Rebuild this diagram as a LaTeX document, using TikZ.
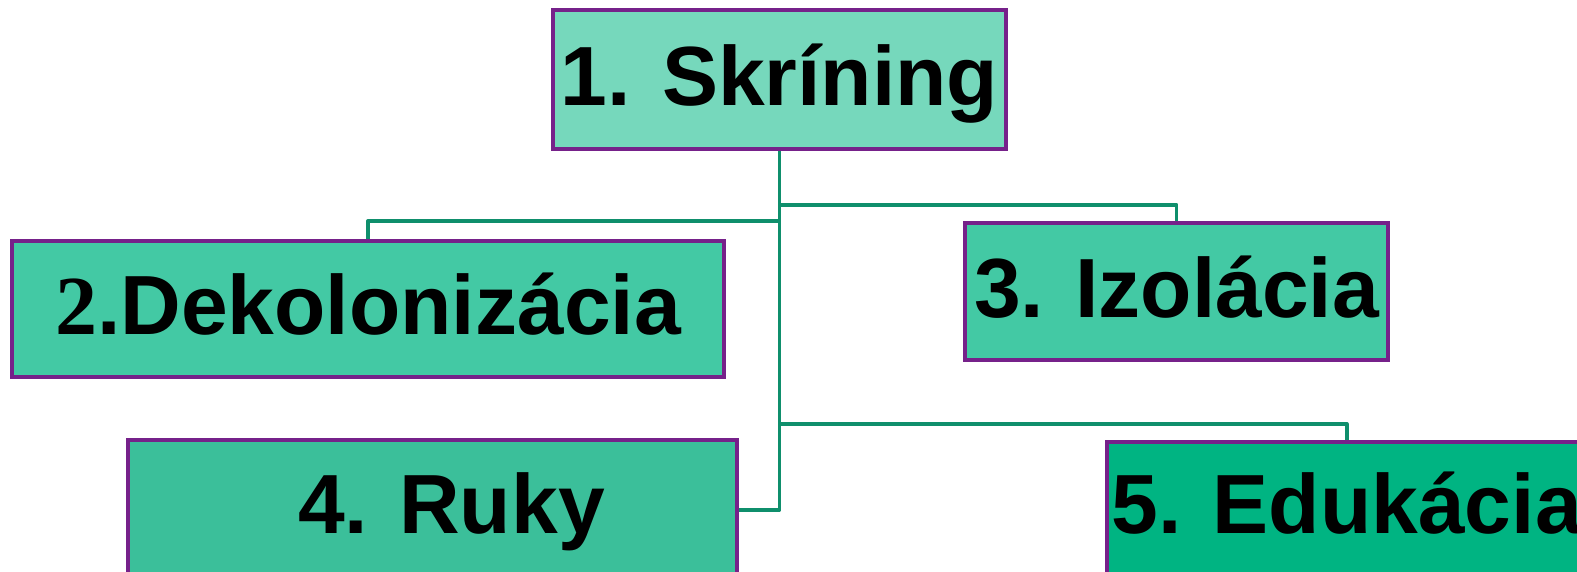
\documentclass[tikz,border=0pt]{standalone}
\usepackage{fontspec}
\setmainfont{Liberation Sans}
\newfontfamily\serifdigit{Liberation Serif}
\usepackage{tikz}

\definecolor{borderpurple}{HTML}{76218A}
\definecolor{linkgreen}{HTML}{0F8F6C}
\definecolor{fillone}{HTML}{76D8BC}
\definecolor{filltwo}{HTML}{43C9A4}
\definecolor{fillfour}{HTML}{3BBF9A}
\definecolor{fillfive}{HTML}{00B482}

\tikzset{
  stepbox/.style={draw=borderpurple, line width=3.5pt, inner xsep=5pt,
    font=\fontsize{84pt}{90pt}\selectfont\bfseries,
    text height=61pt, text depth=10pt},
  lowbox/.style={stepbox, text depth=15pt},
  link/.style={draw=linkgreen, line width=3.5pt, line join=round}
}

\begin{document}
\begin{tikzpicture}[x=1pt, y=-1pt]
      \clip (0,0) rectangle (1577,571);
      \fill[white] (0,0) rectangle (1577,571);
      \node[stepbox, fill=fillone, minimum width=453pt, minimum height=139pt] (skrin) at (779.5, 79.5) {1. Skríning};
      \node[stepbox, fill=filltwo, minimum width=712pt, minimum height=136pt] (dekol) at (368, 309) {{\serifdigit 2}.Dekolonizácia};
      \node[stepbox, fill=filltwo, minimum width=423pt, minimum height=137pt] (izol) at (1176.5, 291.5) {3. Izolácia};
      \node[lowbox, fill=fillfour, minimum width=609pt, minimum height=140pt] (ruky) at (432.5, 510) {\hspace*{38pt}4. Ruky};
      \node[lowbox, fill=fillfive, minimum height=136pt, anchor=west] (eduk) at (1105, 510) {5. Edukácia};
      \coordinate (forkright) at ([yshift=-54pt]skrin.south);
      \coordinate (forkleft) at ([yshift=-70pt]skrin.south);
      \coordinate (forklow) at ([yshift=-273pt]skrin.south);
      \draw[link] (skrin.south) |- (ruky.east);
      \draw[link] (forkleft) -| (dekol.north);
      \draw[link] (forkright) -| (izol.north);
      \draw[link] (forklow) -| (eduk.north);
    \end{tikzpicture}
\end{document}
